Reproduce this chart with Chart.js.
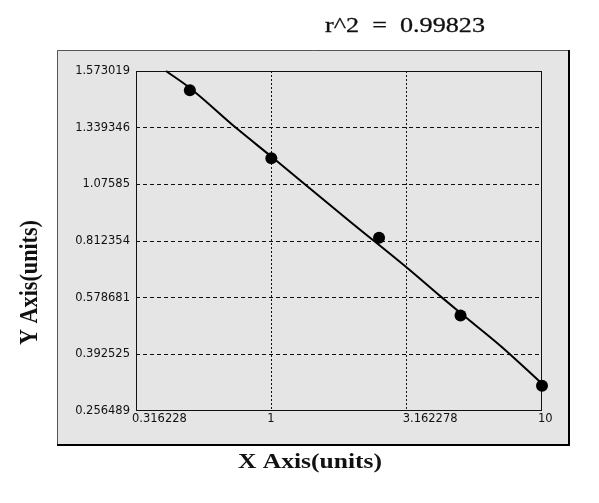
<!DOCTYPE html>
<html>
<head>
<meta charset="utf-8">
<script src="https://cdn.jsdelivr.net/npm/chart.js@4/dist/chart.umd.min.js"></script>
<style>
html,body{margin:0;padding:0;background:#fff;}
#wrap{width:599px;height:503px;position:relative;}
</style>
</head>
<body>
<div id="wrap"><canvas id="c" width="599" height="503"></canvas></div>
<script>
// ---- data ----
const xTickValues = [0.316228, 1, 3.162278, 10];
const xTickLabels = ['0.316228', '1', '3.162278', '10'];
const yTickValues = [0.256489, 0.392525, 0.578681, 0.812354, 1.07585, 1.339346, 1.573019];
const yTickLabels = ['0.256489', '0.392525', '0.578681', '0.812354', '1.07585', '1.339346', '1.573019'];
const standardX = [0.5, 1, 2.5, 5, 10];
const standardY = [1.4935, 1.197, 0.827, 0.520, 0.317];
const fitX = [0.408, 0.5, 0.746, 1, 1.962, 3.18, 4.23, 5, 7.05, 10];
const fitY = [1.573, 1.503, 1.335, 1.205, 0.901, 0.701, 0.583, 0.528, 0.419, 0.322];
const rSquaredText = 'r^2  =  0.99823';
const xTitle = 'X Axis(units)';
const yTitle = 'Y Axis(units)';

// ---- y scale: equally spaced tick values, linear between ticks ----
class PiecewiseScale extends Chart.LinearScale {
  determineDataLimits() {
    this.min = yTickValues[0];
    this.max = yTickValues[yTickValues.length - 1];
  }
  buildTicks() {
    return yTickValues.map(v => ({ value: v }));
  }
  getPixelForValue(value) {
    if (value === null || value === undefined || isNaN(value)) return NaN;
    const t = yTickValues, n = t.length - 1;
    let i = 0;
    while (i < n - 1 && value > t[i + 1]) i++;
    const frac = (i + (value - t[i]) / (t[i + 1] - t[i])) / n;
    return this.getPixelForDecimal(frac);
  }
  getValueForPixel(pixel) {
    const t = yTickValues, n = t.length - 1;
    const d = this.getDecimalForPixel(pixel) * n;
    let i = Math.min(Math.max(Math.floor(d), 0), n - 1);
    return t[i] + (d - i) * (t[i + 1] - t[i]);
  }
}
PiecewiseScale.id = 'piecewise';
Chart.register(PiecewiseScale);

function drawFitted(c, text, font, x, y, targetW, sy, stroke) {
  c.save();
  c.font = font;
  const w = c.measureText(text).width;
  c.translate(x, y);
  c.scale(targetW / w, sy || 1);
  c.textAlign = 'left';
  c.textBaseline = 'alphabetic';
  c.fillStyle = '#111';
  c.fillText(text, 0, 0);
  if (stroke) {
    c.strokeStyle = '#111';
    c.lineWidth = stroke;
    c.strokeText(text, 0, 0);
  }
  c.restore();
}

const panelPlugin = {
  id: 'panel',
  beforeDraw(chart) {
    const c = chart.ctx;
    c.save();
    c.fillStyle = '#ffffff';
    c.fillRect(0, 0, 599, 503);
    c.fillStyle = '#e5e5e5';
    c.fillRect(57, 50, 512, 394);
    c.strokeStyle = '#555';
    c.lineWidth = 1;
    c.beginPath();
    c.moveTo(57.5, 444); c.lineTo(57.5, 50.5); c.lineTo(569, 50.5);
    c.stroke();
    c.strokeStyle = '#000';
    c.lineWidth = 2;
    c.beginPath();
    c.moveTo(569, 50); c.lineTo(569, 445); c.lineTo(57, 445);
    c.stroke();
    c.restore();
  },
  beforeDatasetsDraw(chart) {
    const a = chart.chartArea, c = chart.ctx;
    c.save();
    c.strokeStyle = '#111';
    c.lineWidth = 1;
    c.strokeRect(Math.round(a.left) + 0.5, Math.round(a.top) + 0.5,
                 Math.round(a.right - a.left) - 1, Math.round(a.bottom - a.top) - 1);
    c.restore();
  },
  afterDraw(chart) {
    const c = chart.ctx;
    drawFitted(c, rSquaredText, '22px "Liberation Serif"', 325, 31.5, 160, 1, 0.3);
    drawFitted(c, xTitle, 'bold 20px "Liberation Serif"', 238, 468, 144, 1);
    c.save();
    c.translate(37, 345);
    c.rotate(-Math.PI / 2);
    drawFitted(c, yTitle, 'bold 20px "Liberation Serif"', 0, 0, 125, 1.25);
    c.restore();
  }
};

const tickFont = { family: 'DejaVu Sans', size: 11.5 };

new Chart(document.getElementById('c').getContext('2d'), {
  type: 'scatter',
  data: {
    datasets: [
      {
        label: 'fit',
        data: fitX.map((x, i) => ({ x: x, y: fitY[i] })),
        showLine: true,
        borderColor: '#000',
        borderWidth: 2,
        pointRadius: 0,
        cubicInterpolationMode: 'monotone',
        clip: false,
        order: 2
      },
      {
        label: 'standards',
        data: standardX.map((x, i) => ({ x: x, y: standardY[i] })),
        showLine: false,
        pointRadius: 6,
        pointBackgroundColor: '#000',
        pointBorderColor: '#000',
        pointBorderWidth: 0,
        clip: false,
        order: 1
      }
    ]
  },
  options: {
    responsive: false,
    animation: false,
    devicePixelRatio: 1,
    layout: { padding: { left: 0, top: 71, right: 57, bottom: 72 } },
    plugins: { legend: { display: false }, tooltip: { enabled: false }, title: { display: false } },
    scales: {
      x: {
        type: 'logarithmic',
        position: 'bottom',
        bounds: 'data',
        min: xTickValues[0],
        max: xTickValues[xTickValues.length - 1],
        afterBuildTicks: s => {
          s.ticks = xTickValues.map(v => ({ value: v }));
          s.min = xTickValues[0];
          s.max = xTickValues[xTickValues.length - 1];
        },
        afterFit: s => { s.height = 20; },
        ticks: {
          autoSkip: false, maxRotation: 0, minRotation: 0,
          align: 'start', labelOffset: -4, padding: 1,
          color: '#111', font: tickFont,
          callback: (v, i) => xTickLabels[i]
        },
        grid: {
          drawTicks: false,
          lineWidth: 1,
          color: c => (c.index === 0 || c.index === xTickValues.length - 1) ? 'rgba(0,0,0,0)' : '#111'
        },
        border: { display: false, dash: [2, 2] }
      },
      y: {
        type: 'piecewise',
        position: 'left',
        afterFit: s => { s.width = 136; },
        ticks: {
          autoSkip: false, padding: 6,
          color: '#111', font: tickFont,
          callback: (v, i) => yTickLabels[i]
        },
        grid: {
          drawTicks: false,
          lineWidth: 1,
          color: c => (c.index === 0 || c.index === yTickValues.length - 1) ? 'rgba(0,0,0,0)' : '#111'
        },
        border: { display: false, dash: [4, 3] }
      }
    }
  },
  plugins: [panelPlugin]
});
</script>
</body>
</html>
